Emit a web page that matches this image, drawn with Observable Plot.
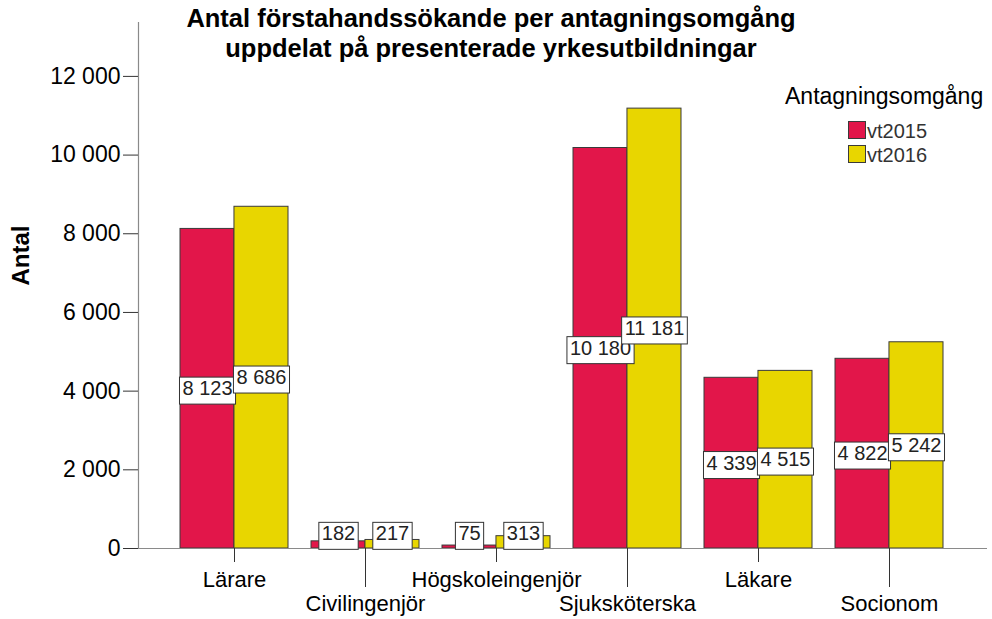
<!DOCTYPE html>
<html>
<head>
<meta charset="utf-8">
<script src="https://cdn.jsdelivr.net/npm/d3@7"></script>
<script src="https://cdn.jsdelivr.net/npm/@observablehq/plot@0.6"></script>
<style>
  html, body { margin: 0; padding: 0; background: #fff; }
  #wrap { position: relative; width: 992px; height: 619px; font-family: "Liberation Sans", Arial, sans-serif; }
  #title { position: absolute; left: 141px; width: 700px; top: 4px; text-align: center; font-weight: bold; font-size: 25.5px; line-height: 29.5px; color: #000; white-space: nowrap; }
  #legend { position: absolute; left: 785px; top: 83px; color: #000; }
  #legend .lt { font-size: 23px; line-height: 26px; margin-bottom: 9px; white-space: nowrap; }
  #legend .item { position: relative; height: 24px; margin-left: 63px; font-size: 20px; line-height: 24px; color: #333; }
  #legend .sw { position: absolute; left: 0; top: 3px; width: 16px; height: 16px; border: 1px solid #3a3a3a; }
  #legend .lab { position: absolute; left: 19px; top: 1px; }
</style>
</head>
<body>
<div id="wrap">
  <div id="title"></div>
  <div id="legend"></div>
</div>
<script>
const categories = ["Lärare", "Civilingenjör", "Högskoleingenjör", "Sjuksköterska", "Läkare", "Socionom"];
const seriesNames = ["vt2015", "vt2016"];
const vt2015 = [8123, 182, 75, 10180, 4339, 4822];
const vt2016 = [8686, 217, 313, 11181, 4515, 5242];
const yTicks = [0, 2000, 4000, 6000, 8000, 10000, 12000];
const titleLines = ["Antal förstahandssökande per antagningsomgång", "uppdelat på presenterade yrkesutbildningar"];
const yLabel = "Antal";
const legendTitle = "Antagningsomgång";
const colors = ["#E2164A", "#E8D600"];

const W = 992, H = 619;
const mL = 138, mR = 5, mT = 22, mB = 71;
const insL = 18, insR = 21, pad = 0.177;

const fmt = d => d3.format(",")(d).replace(/,/g, "\u00a0");

const rows = categories.flatMap((c, i) => [
  {cat: c, series: seriesNames[0], v: vt2015[i]},
  {cat: c, series: seriesNames[1], v: vt2016[i]}
]);
const r15 = rows.filter(d => d.series === seriesNames[0]);
const r16 = rows.filter(d => d.series === seriesNames[1]);

// half of the band, so that the two series share each category band
const bw = d3.scaleBand().domain(categories).range([mL + insL, W - mR - insR]).padding(pad).bandwidth();
const half = bw / 2;
const minLabel = 370; // keep label boxes above the baseline

const font = "Liberation Sans, Arial, sans-serif";

const chart = Plot.plot({
  width: W,
  height: H,
  marginLeft: mL,
  marginRight: mR,
  marginTop: mT,
  marginBottom: mB,
  style: {fontFamily: font, background: "white", overflow: "visible"},
  x: {domain: categories, padding: pad, insetLeft: insL, insetRight: insR, axis: null},
  y: {domain: [0, 13370], axis: null},
  color: {domain: seriesNames, range: colors},
  marks: [
    Plot.barY(r15, {x: "cat", y: "v", fill: "series", stroke: "#3a3a3a", strokeWidth: 1, insetRight: half}),
    Plot.barY(r16, {x: "cat", y: "v", fill: "series", stroke: "#3a3a3a", strokeWidth: 1, insetLeft: half}),
    Plot.frame({anchor: "left", stroke: "#8a8a8a", strokeWidth: 1.2}),
    Plot.ruleY([0], {stroke: "#8a8a8a", strokeWidth: 1.2}),
    Plot.axisY({ticks: yTicks, tickFormat: fmt, tickSize: 15, tickPadding: 3, fontSize: 23, stroke: "#333", fill: "#000", label: null}),
    Plot.axisX({ticks: categories.filter((d, i) => i % 2 === 0), tickSize: 14, tickPadding: 9, fontSize: 22, stroke: "#333", fill: "#000", label: null}),
    Plot.axisX({ticks: categories.filter((d, i) => i % 2 === 1), tickSize: 39, tickPadding: 8, fontSize: 22, stroke: "#333", fill: "#000", label: null}),
    Plot.text(r15, {x: "cat", y: d => Math.max(d.v / 2, minLabel), text: d => fmt(d.v), dx: -half / 2, fontSize: 20, fill: "#222", lineAnchor: "middle"}),
    Plot.text(r16, {x: "cat", y: d => Math.max(d.v / 2, minLabel), text: d => fmt(d.v), dx: half / 2, fontSize: 20, fill: "#222", lineAnchor: "middle"}),
    Plot.text([yLabel], {frameAnchor: "left", text: d => d, rotate: -90, dx: -117, fontSize: 24, fontWeight: "bold", fill: "#000"})
  ]
});

const wrap = document.getElementById("wrap");
wrap.insertBefore(chart, wrap.firstChild);
chart.style.position = "absolute";
chart.style.left = "0px";
chart.style.top = "0px";

// white boxes with a dark border behind the value labels
const isNum = /^[\d\u00a0 ]+$/;
chart.querySelectorAll('g[aria-label="text"] text').forEach(t => {
  if (!isNum.test(t.textContent)) return;
  const b = t.getBBox();
  const r = document.createElementNS("http://www.w3.org/2000/svg", "rect");
  r.setAttribute("x", b.x - 3);
  r.setAttribute("y", b.y);
  r.setAttribute("width", b.width + 6);
  r.setAttribute("height", b.height + 5);
  r.setAttribute("fill", "white");
  r.setAttribute("stroke", "#333");
  r.setAttribute("stroke-width", "1");
  if (t.getAttribute("transform")) r.setAttribute("transform", t.getAttribute("transform"));
  t.parentNode.insertBefore(r, t);
});

document.getElementById("title").innerHTML = titleLines.map(s => `<div>${s}</div>`).join("");
document.getElementById("legend").innerHTML =
  `<div class="lt">${legendTitle}</div>` +
  seriesNames.map((s, i) => `<div class="item"><span class="sw" style="background:${colors[i]}"></span><span class="lab">${s}</span></div>`).join("");
</script>
</body>
</html>
